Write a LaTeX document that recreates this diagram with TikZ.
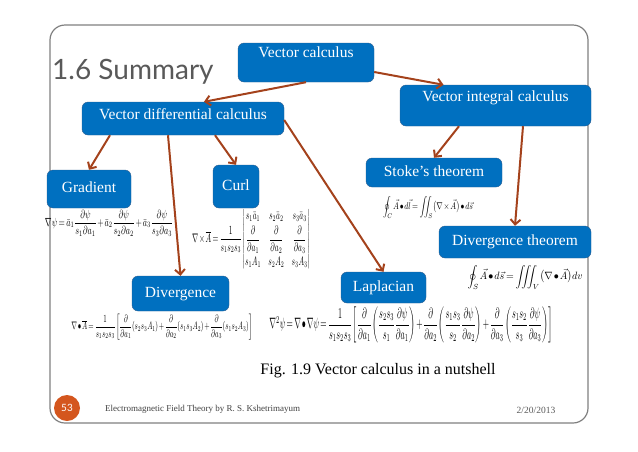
\documentclass[tikz,border=0pt]{standalone}
\usepackage{fontspec}
\usepackage{amsmath}
\usepackage{graphicx}
\setmainfont{Liberation Serif}
\newfontfamily\titlefont{Lato}
\usetikzlibrary{arrows.meta}
\definecolor{boxblue}{HTML}{0070C0}
\definecolor{boxline}{HTML}{2F5E8E}
\definecolor{arrowred}{HTML}{A4421C}
\definecolor{framegray}{HTML}{7F7F7F}
\definecolor{titlegray}{HTML}{595959}
\definecolor{pagered}{HTML}{D4561E}
% formula squeezed into the size it has on the slide
\newcommand{\eqbox}[3]{\resizebox*{#1}{#2}{\thinmuskip=1.5mu\medmuskip=2mu\thickmuskip=3mu$#3$}}

\begin{document}
\begin{tikzpicture}[x=1pt, y=-1pt,
    topic/.style={draw=boxline, fill=boxblue, rounded corners=6pt, text=white, inner sep=0pt,
      font=\fontsize{15.5}{17}\selectfont, text height=11pt, text depth=4pt},
    link/.style={draw=arrowred, line width=2pt, -{Straight Barb[length=5pt, width=10pt]}},
    eqn/.style={inner sep=0pt}]
    \useasboundingbox (0,0) rectangle (638,451);
    % slide frame and title
    \draw[framegray, line width=1.2pt, rounded corners=15pt] (50,25) rectangle (588,423);
    \node[anchor=base west, text=titlegray, inner sep=0pt] (title) at (52,79) {\titlefont\fontsize{28}{30}\selectfont 1.6 Summary};
    % boxes
    \node[topic, minimum width=136pt, minimum height=39pt, text depth=21pt] (vc) at (306,62.5) {Vector calculus};
    \node[topic, minimum width=191pt, minimum height=41pt, text depth=20pt] (vic) at (495.5,105.5) {Vector integral calculus};
    \node[topic, minimum width=202pt, minimum height=33pt, text depth=10pt] (vdc) at (183,118.5) {Vector differential calculus};
    \node[topic, minimum width=84pt, minimum height=38pt] (grad) at (89,189) {Gradient};
    \node[topic, minimum width=46pt, minimum height=43pt] (curl) at (236,186.5) {Curl};
    \node[topic, minimum width=136pt, minimum height=29pt] (stokes) at (434,172.5) {Stoke’s theorem};
    \node[topic, minimum width=152pt, minimum height=32pt] (dt) at (515,242) {Divergence theorem};
    \node[topic, minimum width=97pt, minimum height=35pt] (div) at (180.5,293.5) {Divergence};
    \node[topic, minimum width=85pt, minimum height=31pt] (lap) at (383.5,287.5) {Laplacian};
    % formulas
    \node[eqn] (gradeq) at (109,223) {\eqbox{128pt}{26pt}{\nabla\psi=\bar{a}_1\dfrac{\partial\psi}{s_1\partial a_1}+\bar{a}_2\dfrac{\partial\psi}{s_2\partial a_2}+\bar{a}_3\dfrac{\partial\psi}{s_3\partial a_3}}};
    \node[eqn] (curleq) at (251,239.5) {\eqbox{118pt}{61pt}{\nabla\times\overline{A}=\dfrac{1}{s_1s_2s_3}\begin{vmatrix} s_1\bar{a}_1 & s_2\bar{a}_2 & s_3\bar{a}_3\\[2pt] \dfrac{\partial}{\partial a_1} & \dfrac{\partial}{\partial a_2} & \dfrac{\partial}{\partial a_3}\\[6pt] s_1A_1 & s_2A_2 & s_3A_3\end{vmatrix}}};
    \node[eqn] (stokeseq) at (428,207) {\eqbox{90pt}{22pt}{\displaystyle\oint_C\vec{A}\bullet d\vec{l}=\iint_S\bigl(\nabla\times\vec{A}\bigr)\bullet d\vec{s}}};
    \node[eqn] (dteq) at (525,277) {\eqbox{115pt}{24pt}{\displaystyle\oint_S\vec{A}\bullet d\vec{s}=\iiint_V\bigl(\nabla\bullet\vec{A}\bigr)dv}};
    \node[eqn] (diveq) at (162,327) {\eqbox{181pt}{26pt}{\nabla\bullet\overline{A}=\dfrac{1}{s_1s_2s_3}\left[\dfrac{\partial}{\partial a_1}(s_2s_3A_1)+\dfrac{\partial}{\partial a_2}(s_1s_3A_2)+\dfrac{\partial}{\partial a_3}(s_1s_2A_3)\right]}};
    \node[eqn] (lapeq) at (411,325) {\eqbox{283pt}{36pt}{\nabla^2\psi=\nabla\bullet\nabla\psi=\dfrac{1}{s_1s_2s_3}\left[\dfrac{\partial}{\partial a_1}\left(\dfrac{s_2s_3}{s_1}\dfrac{\partial\psi}{\partial a_1}\right)+\dfrac{\partial}{\partial a_2}\left(\dfrac{s_1s_3}{s_2}\dfrac{\partial\psi}{\partial a_2}\right)+\dfrac{\partial}{\partial a_3}\left(\dfrac{s_1s_2}{s_3}\dfrac{\partial\psi}{\partial a_3}\right)\right]}};
    % caption and footer
    \node (caption) at (378,371) {\fontsize{16}{18}\selectfont Fig. 1.9 Vector calculus in a nutshell};
    \node[circle, fill=pagered, minimum size=26pt, inner sep=0pt, text=white] (page) at (67,408) {\titlefont\fontsize{10}{12}\selectfont 53};
    \node[anchor=west, text=black!75, inner sep=0pt] (footer) at (105,409) {\fontsize{9}{11}\selectfont Electromagnetic Field Theory by R. S. Kshetrimayum};
    \node[text=black!65, inner sep=0pt] (date) at (536,410) {\fontsize{9.5}{11}\selectfont 2/20/2013};
    % arrows
    \draw[link] (vc.south) -- ([xshift=21pt]vdc.north);
    \draw[link] ([yshift=-9.5pt]vc.east) -- ([xshift=-52pt]vic.north);
    \draw[link] ([xshift=-73pt]vdc.south) -- (grad.north);
    \draw[link] ([xshift=32pt]vdc.south) -- (curl.north);
    \draw[link] ([xshift=-15pt]vdc.south) -- (div.north);
    \draw[link] ([yshift=-1.5pt]vdc.east) -- (lap.north);
    \draw[link] ([xshift=-36.5pt]vic.south) -- (stokes.north);
    \draw[link] ([xshift=27.5pt]vic.south) -- (dt.north);
\end{tikzpicture}
\end{document}
